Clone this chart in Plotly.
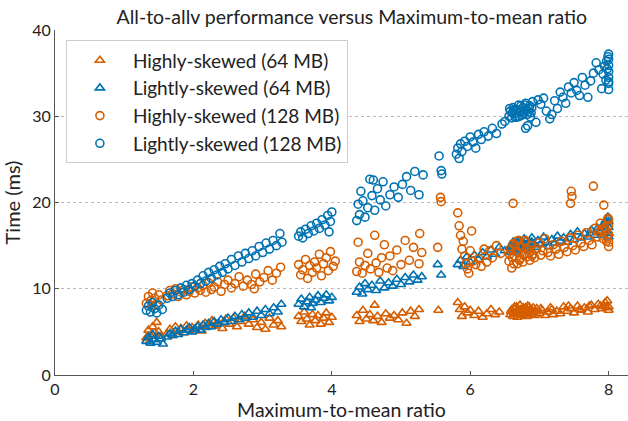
import plotly.graph_objects as go

# ---- data ----
hs64 = [
    (1.32,4.3),(1.35,5.2),(1.38,4.6),(1.41,5.6),(1.44,4.9),(1.47,6.1),(1.50,5.0),(1.53,4.5),(1.37,3.9),
    (1.62,4.8),(1.66,5.3),(1.70,4.6),(1.74,5.6),(1.78,5.0),(1.82,5.4),(1.86,4.9),(1.90,5.7),(1.94,5.2),(1.98,5.5),
    (2.02,5.3),(2.07,5.8),(2.12,5.1),(2.17,6.0),(2.22,5.6),(2.27,6.3),(2.32,5.7),(2.37,6.0),(2.42,5.4),(2.47,6.5),
    (2.52,5.9),(2.58,6.6),(2.63,5.6),(2.68,6.2),(2.74,6.8),(2.80,5.9),(2.86,6.4),(2.92,5.5),(2.98,6.1),(3.04,5.3),
    (3.10,6.6),(3.16,5.8),(3.22,6.3),(3.27,5.6),
    (3.52,6.8),(3.56,6.2),(3.60,7.3),(3.64,6.5),(3.68,5.8),(3.72,7.0),(3.76,6.3),(3.80,6.9),(3.84,5.9),(3.88,6.6),
    (3.92,7.2),(3.96,6.1),(4.00,6.7),
    (4.36,6.9),(4.40,6.2),(4.45,7.5),(4.50,6.5),(4.55,7.0),(4.60,6.3),(4.62,8.1),(4.66,6.8),(4.72,6.1),(4.78,7.1),
    (4.84,6.6),(4.90,6.9),(4.96,6.4),(5.02,7.2),(5.08,6.0),(5.14,7.4),(5.20,6.8),(5.26,7.6),
    (5.54,7.5),
    (5.82,8.4),(5.85,7.6),(5.88,6.8),(5.92,7.9),(5.96,7.2),(6.00,7.5),(6.06,6.9),(6.12,7.4),(6.18,6.7),(6.24,7.1),
    (6.30,7.6),(6.36,7.0),(6.42,7.3),
    (6.58,7.0),(6.60,7.6),(6.62,6.8),(6.64,7.9),(6.66,7.2),(6.68,6.7),(6.70,7.5),(6.72,8.1),(6.74,6.9),(6.76,7.4),
    (6.78,7.0),(6.80,7.8),(6.82,6.8),(6.84,7.3),(6.86,7.6),(6.88,7.0),(6.90,7.4),(6.93,6.9),(6.96,7.7),(7.00,7.1),
    (7.04,7.5),(7.08,6.9),(7.12,7.3),(7.16,7.8),(7.20,7.0),(7.25,7.4),(7.30,7.1),(7.35,7.9),(7.40,7.4),(7.45,7.7),
    (7.50,7.2),(7.55,8.0),(7.60,7.5),(7.65,7.8),(7.70,7.3),(7.75,8.1),(7.80,7.6),(7.85,8.2),(7.90,7.7),(7.95,8.4),
    (8.00,7.9),(7.98,8.6),(8.00,7.5),(7.92,8.0),(6.65,7.7),(6.75,7.1),(6.85,7.9),(6.95,7.3),
    (6.59,7.4),(6.63,7.2),(6.67,7.9),(6.71,7.1),(6.73,7.6),(6.77,7.8),(6.81,7.3),(6.83,8.0),(6.87,7.2),(6.91,7.8),
    (7.02,7.7),(7.18,7.6),(7.42,8.0),(7.58,7.6),(7.72,8.0),(7.88,8.0),(7.97,7.8),
]
ls64 = [
    (1.32,3.9),(1.35,4.4),(1.38,3.7),(1.41,4.7),(1.44,4.1),(1.47,3.8),(1.50,4.5),(1.53,4.2),(1.56,3.6),
    (1.62,4.4),(1.66,4.8),(1.70,4.6),(1.74,5.1),(1.78,4.7),(1.82,5.3),(1.86,4.9),(1.90,5.2),(1.94,5.5),(1.98,5.0),
    (2.02,5.3),(2.06,5.6),(2.10,5.2),(2.14,5.8),(2.18,5.5),(2.22,6.0),(2.26,5.6),(2.30,6.2),(2.35,5.9),(2.40,6.4),
    (2.45,6.1),(2.50,6.6),(2.55,6.2),(2.60,6.8),(2.65,6.4),(2.70,7.0),(2.75,6.6),(2.80,7.2),(2.86,6.7),(2.92,7.4),
    (2.98,6.9),(3.04,7.6),(3.10,7.1),(3.16,7.8),(3.22,7.3),(3.27,8.2),
    (3.52,8.2),(3.56,8.8),(3.60,7.9),(3.64,8.5),(3.68,9.0),(3.72,8.3),(3.76,8.7),(3.80,9.2),(3.84,8.4),(3.88,8.9),
    (3.92,9.3),(3.96,8.6),(4.00,9.0),(3.70,7.8),
    (4.36,9.6),(4.40,10.2),(4.44,9.4),(4.48,10.6),(4.52,9.9),(4.58,10.4),(4.64,9.8),(4.70,10.9),(4.76,10.1),
    (4.82,10.7),(4.88,10.3),(4.94,11.1),(5.00,10.5),(5.06,11.3),(5.12,10.8),(5.18,11.6),(5.24,11.0),(5.30,11.4),
    (5.53,12.8),(5.58,11.6),
    (5.82,12.8),(5.86,13.3),(5.90,12.6),(5.95,13.7),(6.00,13.1),(6.06,13.9),(6.12,13.4),(6.18,14.2),(6.24,13.7),
    (6.30,14.5),(6.36,14.0),(6.42,14.8),(6.50,14.4),
    (6.58,14.2),(6.60,14.9),(6.62,15.4),(6.64,14.5),(6.66,15.1),(6.68,14.3),(6.70,15.6),(6.72,14.8),(6.74,15.2),
    (6.76,14.6),(6.78,15.8),(6.80,15.0),(6.83,14.7),(6.86,15.4),(6.89,15.9),(6.92,15.1),(6.95,14.8),(6.98,15.6),
    (7.02,15.2),(7.06,16.0),(7.10,15.4),(7.14,14.9),(7.18,15.7),(7.22,15.3),(7.26,16.1),(7.30,15.5),(7.35,15.9),
    (7.40,15.4),(7.45,16.3),(7.50,15.7),(7.55,16.6),(7.60,15.9),(7.65,16.4),(7.70,16.0),(7.75,16.8),(7.80,16.2),
    (7.84,17.0),(7.88,16.5),(7.92,17.4),(7.96,16.8),(8.00,17.8),(8.00,16.4),(7.99,18.3),(8.00,17.1),(7.97,17.6),
    (6.57,14.8),(6.61,15.0),(6.65,14.6),(6.69,15.3),(6.73,15.5),(6.77,15.1),(6.81,15.6),(6.85,15.0),(6.89,15.4),
    (7.92,16.2),(7.96,17.9),(8.00,16.0),
]
hs128 = [
    (1.32,8.3),(1.35,9.1),(1.38,8.6),(1.41,9.5),(1.44,8.9),(1.47,8.2),(1.50,9.3),(1.54,8.7),(1.40,8.0),
    (1.62,9.2),(1.66,9.8),(1.70,9.4),(1.74,10.0),(1.78,9.1),(1.82,9.6),(1.86,9.9),(1.90,9.3),(1.94,9.7),(1.98,10.2),
    (2.02,9.5),(2.06,10.1),(2.10,9.8),(2.14,10.4),(2.18,9.6),(2.22,10.7),(2.26,9.9),(2.30,10.2),(2.35,10.8),
    (2.40,9.7),(2.45,10.5),(2.50,11.0),(2.55,10.1),(2.60,10.6),(2.66,11.4),(2.72,10.3),(2.78,11.0),(2.84,10.5),
    (2.90,11.7),(2.96,10.8),(3.02,11.3),(3.08,12.1),(3.14,11.0),(3.20,11.8),(3.26,12.5),(2.88,10.0),
    (3.52,12.8),(3.55,11.6),(3.58,12.2),(3.62,13.4),(3.65,11.2),(3.68,12.7),(3.72,11.9),(3.75,13.1),(3.78,12.4),
    (3.82,14.0),(3.85,11.5),(3.88,12.9),(3.92,13.6),(3.95,12.1),(3.98,14.3),(4.02,12.6),(4.05,13.2),
    (4.36,12.0),(4.38,15.4),(4.40,13.1),(4.44,11.8),(4.48,12.7),(4.52,14.1),(4.56,12.3),(4.62,16.2),(4.64,13.0),
    (4.68,11.9),(4.72,13.6),(4.76,15.1),(4.80,12.4),(4.84,13.8),(4.88,12.1),(4.94,14.5),(5.00,12.8),(5.06,15.6),
    (5.12,13.3),(5.18,14.8),(5.27,16.4),(5.26,12.9),(5.30,14.2),
    (5.53,14.8),(5.57,20.6),(5.58,20.1),
    (5.82,18.8),(5.84,17.3),(5.86,16.2),(5.88,14.6),(5.90,15.5),(5.92,13.8),(5.94,12.9),(5.96,12.3),(6.00,14.4),
    (6.04,13.2),(6.08,12.8),(6.12,13.5),(6.16,12.6),(6.20,14.6),(6.24,13.1),(6.28,14.4),(6.32,13.6),(6.38,15.0),
    (6.44,14.1),(5.98,11.8),(6.02,16.7),
    (6.62,19.9),(7.46,21.3),(7.47,20.7),(7.45,19.9),(7.78,21.9),(7.93,19.7),
    (6.56,13.2),(6.58,14.6),(6.60,12.4),(6.62,15.2),(6.64,13.8),(6.66,14.3),(6.68,12.9),(6.70,15.6),(6.72,13.5),
    (6.74,14.8),(6.76,13.1),(6.78,14.1),(6.80,15.4),(6.82,13.7),(6.84,14.5),(6.86,13.3),(6.88,15.0),(6.90,14.0),
    (6.93,13.6),(6.96,14.7),(6.99,15.3),(7.02,13.9),(7.05,14.4),(7.08,15.8),(7.12,14.2),(7.16,13.8),(7.20,15.1),
    (7.24,14.6),(7.28,14.0),(7.32,15.5),(7.36,14.8),(7.40,14.3),(7.44,15.9),(7.48,15.0),(7.52,14.5),(7.56,16.2),
    (7.60,15.3),(7.64,14.9),(7.68,16.5),(7.72,15.6),(7.76,15.1),(7.80,17.0),(7.84,16.0),(7.88,17.6),(7.92,15.8),
    (7.96,16.8),(8.00,15.4),(8.00,16.3),(8.00,17.3),(7.99,18.2),(8.00,14.9),(7.98,16.0),
    (6.57,14.0),(6.61,13.6),(6.65,15.0),(6.69,14.2),(6.73,14.9),(6.77,13.9),(6.81,14.6),(6.85,14.1),(6.89,13.8),
    (6.63,12.9),(6.71,13.3),(6.79,15.6),(6.67,15.5),(7.86,16.6),(7.94,17.1),(7.97,15.5),(8.00,18.0),(7.90,16.9),
]
ls128 = [
    (1.32,7.5),(1.35,8.0),(1.38,7.3),(1.41,8.4),(1.44,7.7),(1.47,7.2),(1.50,8.1),(1.55,7.6),
    (1.62,8.9),(1.66,9.5),(1.70,9.1),(1.74,9.8),(1.78,9.3),(1.82,10.1),(1.86,9.6),(1.90,10.4),(1.94,9.9),(1.98,10.6),
    (2.02,10.3),(2.06,11.0),(2.10,10.6),(2.14,11.5),(2.18,10.9),(2.22,11.9),(2.26,11.2),(2.30,12.2),(2.34,11.6),
    (2.38,12.6),(2.42,11.9),(2.46,12.9),(2.50,12.3),(2.55,13.4),(2.60,12.7),(2.65,13.8),(2.70,13.1),(2.75,14.1),
    (2.80,13.5),(2.85,14.4),(2.90,13.8),(2.95,14.9),(3.00,14.2),(3.05,15.3),(3.10,14.6),(3.15,15.6),(3.20,15.0),
    (3.25,16.4),(3.28,15.4),
    (3.52,16.1),(3.55,16.6),(3.58,15.9),(3.62,16.9),(3.66,16.4),(3.70,17.3),(3.74,16.7),(3.78,17.6),(3.82,17.0),
    (3.86,18.0),(3.90,17.4),(3.94,18.5),(3.98,17.8),(4.00,18.9),(3.96,16.6),
    (4.36,17.9),(4.38,19.8),(4.40,18.6),(4.42,21.3),(4.45,20.2),(4.48,18.3),(4.52,19.4),(4.55,22.7),(4.58,20.8),
    (4.62,19.1),(4.66,21.6),(4.70,20.3),(4.74,22.4),(4.78,19.6),(4.84,20.9),(4.90,21.8),(4.96,20.6),(5.02,22.1),
    (5.08,23.0),(5.14,21.4),(5.20,23.6),(5.26,20.9),(5.32,23.2),(4.60,22.6),
    (5.55,25.4),(5.58,23.7),(5.59,23.3),
    (5.80,25.6),(5.82,26.3),(5.84,25.1),(5.86,26.8),(5.88,25.9),(5.92,27.1),(5.96,26.5),(6.00,27.6),(6.04,27.0),
    (6.08,26.3),(6.12,27.9),(6.16,27.3),(6.20,28.2),(6.26,27.7),(6.32,28.6),(6.38,28.0),(6.46,29.1),(6.50,29.4),
    (6.56,30.0),(6.58,30.6),(6.60,29.8),(6.62,31.0),(6.64,30.3),(6.66,30.8),(6.68,29.9),(6.70,31.3),(6.72,30.5),
    (6.74,30.1),(6.76,31.0),(6.78,30.6),(6.80,31.5),(6.82,30.2),(6.84,30.9),(6.86,31.2),(6.88,30.4),(6.90,31.7),
    (6.80,28.6),(6.83,28.9),(6.95,29.3),(6.98,31.9),(7.02,31.4),(7.06,32.1),(7.10,30.6),(7.15,29.7),(7.18,30.2),
    (7.22,31.8),(7.26,30.9),(7.30,32.8),(7.34,32.2),(7.38,31.5),(7.42,33.4),(7.46,32.7),(7.50,33.9),(7.54,33.0),
    (7.58,32.4),(7.62,34.5),(7.66,33.6),(7.70,32.2),(7.74,34.1),(7.78,35.0),(7.82,36.2),(7.86,35.4),(7.90,33.2),
    (7.94,35.8),(8.00,37.2),(8.00,36.6),(8.00,35.9),(8.00,35.2),(8.00,34.5),(8.00,33.8),(8.00,33.1),(7.99,36.9),
    (8.00,34.0),(7.98,35.5),
    (6.57,30.9),(6.61,30.4),(6.65,29.9),(6.69,30.7),(6.73,31.2),(6.77,30.3),(6.81,30.8),(6.85,30.5),(6.89,31.0),
    (6.63,30.7),(6.71,30.0),(6.79,31.3),(6.87,29.9),(7.92,34.9),(7.96,34.2),(7.97,36.4),
]

series_names = ["Highly-skewed (64 MB)", "Lightly-skewed (64 MB)",
                "Highly-skewed (128 MB)", "Lightly-skewed (128 MB)"]
x_ticks = [0, 2, 4, 6, 8]
y_ticks = [0, 10, 20, 30, 40]

ORANGE = "#D55E00"
BLUE = "#0072B2"
FONT = "Lato"

fig = go.Figure()
specs = [(hs64, "triangle-up-open", ORANGE), (ls64, "triangle-up-open", BLUE),
         (hs128, "circle-open", ORANGE), (ls128, "circle-open", BLUE)]
for (pts, sym, col), name in zip(specs, series_names):
    xs = [p[0] for p in pts]
    ys = [p[1] for p in pts]
    fig.add_trace(go.Scatter(
        x=xs, y=ys, mode="markers", name=name,
        marker=dict(symbol=sym, size=8, color=col, line=dict(color=col, width=1.6)),
    ))

fig.update_layout(
    width=628, height=421,
    margin=dict(l=55, r=0, t=30, b=46),
    paper_bgcolor="white", plot_bgcolor="white",
    font=dict(family=FONT, color="#222", size=16),
    title=dict(text="All-to-allv performance versus Maximum-to-mean ratio",
               x=0.518, xref="paper", xanchor="center", y=0.975, yref="container",
               font=dict(family=FONT, size=19.5, color="#222")),
    showlegend=True,
    legend=dict(x=0.019, y=0.97, xanchor="left", yanchor="top",
                bgcolor="white", bordercolor="#cccccc", borderwidth=1,
                font=dict(family=FONT, size=19, color="#222"),
                itemwidth=56, tracegroupgap=0),
)
fig.update_xaxes(
    range=[0, 8.28], tickvals=x_ticks, ticktext=[str(v) for v in x_ticks],
    showgrid=False, zeroline=False, showline=True, linecolor="#555", linewidth=1,
    ticks="inside", ticklen=4, tickcolor="#555", automargin=False,
    tickfont=dict(family=FONT, size=16, color="#222"),
    title=dict(text="Maximum-to-mean ratio", font=dict(family=FONT, size=19.5, color="#222"), standoff=2),
)
fig.update_yaxes(
    range=[0, 40], tickvals=y_ticks, ticktext=[str(v) for v in y_ticks],
    showgrid=True, gridcolor="#bbbbbb", griddash="dot", gridwidth=1,
    zeroline=False, showline=True, linecolor="#555", linewidth=1,
    ticks="inside", ticklen=4, tickcolor="#555", automargin=False,
    tickfont=dict(family=FONT, size=16, color="#222"),
    title=dict(text="Time (ms)", font=dict(family=FONT, size=20, color="#222"), standoff=6),
)

fig.write_html("out.html", config={"displayModeBar": False},
               post_script="document.body.style.margin='0';document.body.style.padding='0';")
